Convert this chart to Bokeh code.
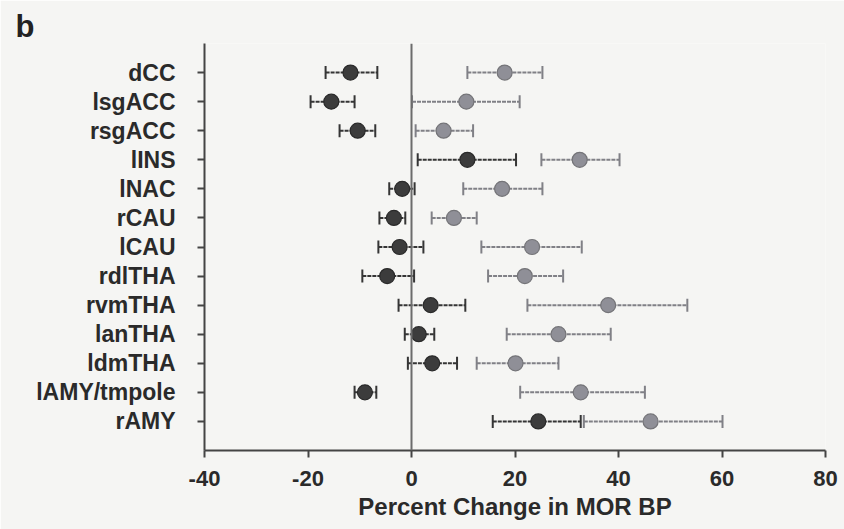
from bokeh.plotting import figure
from bokeh.models import (ColumnDataSource, Range1d, FixedTicker, Whisker, TeeHead, Span)
from bokeh.embed import file_html
from bokeh.resources import INLINE

# ---- data ----
regions = ["dCC", "lsgACC", "rsgACC", "lINS", "lNAC", "rCAU", "lCAU",
           "rdlTHA", "rvmTHA", "lanTHA", "ldmTHA", "lAMY/tmpole", "rAMY"]

dark_mean = [-11.8, -15.5, -10.4, 10.8, -1.8, -3.4, -2.3, -4.7, 3.7, 1.4, 4.0, -9.0, 24.5]
dark_low  = [-16.6, -19.5, -13.9, 1.2, -4.3, -6.2, -6.4, -9.5, -2.5, -1.3, -0.7, -11.0, 15.7]
dark_high = [-6.6, -11.0, -7.0, 20.2, 0.6, -1.2, 2.3, 0.5, 10.4, 4.4, 8.8, -6.8, 32.7]

grey_mean = [18.0, 10.6, 6.2, 32.5, 17.5, 8.2, 23.3, 21.9, 38.0, 28.4, 20.1, 32.7, 46.2]
grey_low  = [10.8, 0.1, 0.8, 25.1, 10.0, 3.9, 13.5, 14.8, 22.4, 18.4, 12.6, 21.0, 33.3]
grey_high = [25.3, 20.9, 11.9, 40.2, 25.3, 12.6, 32.9, 29.3, 53.3, 38.5, 28.4, 45.1, 60.1]

x_ticks = [-40, -20, 0, 20, 40, 60, 80]
x_tick_labels = ["-40", "-20", "0", "20", "40", "60", "80"]
x_title = "Percent Change in MOR BP"
panel_letter = "b"

FONT = "Liberation Sans"
BG = "#f5f5f3"
INK = "#2a2a2a"

ypos = list(range(len(regions)))
dark_src = ColumnDataSource(dict(y=ypos, m=dark_mean, lo=dark_low, hi=dark_high))
grey_src = ColumnDataSource(dict(y=ypos, m=grey_mean, lo=grey_low, hi=grey_high))

p = figure(width=844, height=529, output_backend="svg", toolbar_location=None,
           x_range=Range1d(-40, 80), y_range=Range1d(len(regions), -1),
           min_border_left=204, min_border_right=19, min_border_top=43,
           min_border_bottom=79)
p.background_fill_color = BG
p.border_fill_color = BG
p.outline_line_color = None
p.grid.visible = False

# panel letter as title
p.title.text = panel_letter
p.title.align = "left"
p.title.offset = -189
p.title.text_font = FONT
p.title.text_font_style = "bold"
p.title.text_font_size = "31px"
p.title.text_color = "#222222"
p.title.standoff = 0

# zero line
p.add_layout(Span(location=0, dimension="height", line_color="#6c6c6c", line_width=2))

# error bars
for src, col in ((dark_src, "#353535"), (grey_src, "#808086")):
    w = Whisker(base="y", lower="lo", upper="hi", dimension="width", source=src,
                line_color=col, line_width=2, line_dash="4 1",
                lower_head=TeeHead(size=13, line_color=col, line_width=2),
                upper_head=TeeHead(size=13, line_color=col, line_width=2))
    p.add_layout(w)

p.scatter("m", "y", source=dark_src, size=15, fill_color="#3c3c3c",
          line_color="#2a2a2a", line_width=1.2)
p.scatter("m", "y", source=grey_src, size=15, fill_color="#8f8f97",
          line_color="#747478", line_width=1.2)

# axes
p.xaxis.ticker = FixedTicker(ticks=x_ticks)
p.xaxis.major_label_overrides = {t: s for t, s in zip(x_ticks, x_tick_labels)}
p.yaxis.ticker = FixedTicker(ticks=ypos)
p.yaxis.major_label_overrides = {i: r for i, r in zip(ypos, regions)}
for ax in (p.xaxis[0], p.yaxis[0]):
    ax.axis_line_color = "#444444"
    ax.axis_line_width = 2
    ax.major_tick_line_color = "#444444"
    ax.major_tick_line_width = 2
    ax.major_tick_in = 0
    ax.major_tick_out = 7
    ax.minor_tick_line_color = None
    ax.major_label_text_font = FONT
    ax.major_label_text_font_style = "bold"
    ax.major_label_text_color = INK
p.xaxis.major_label_text_font_size = "22px"
p.xaxis.major_label_standoff = 13
p.yaxis.major_label_text_font_size = "23px"
p.yaxis.major_label_standoff = 22

p.xaxis.axis_label = x_title
p.xaxis.axis_label_text_font = FONT
p.xaxis.axis_label_text_font_style = "bold"
p.xaxis.axis_label_text_font_size = "24px"
p.xaxis.axis_label_text_color = INK
p.xaxis.axis_label_standoff = 4

open("out.html", "w").write(file_html(p, INLINE))
